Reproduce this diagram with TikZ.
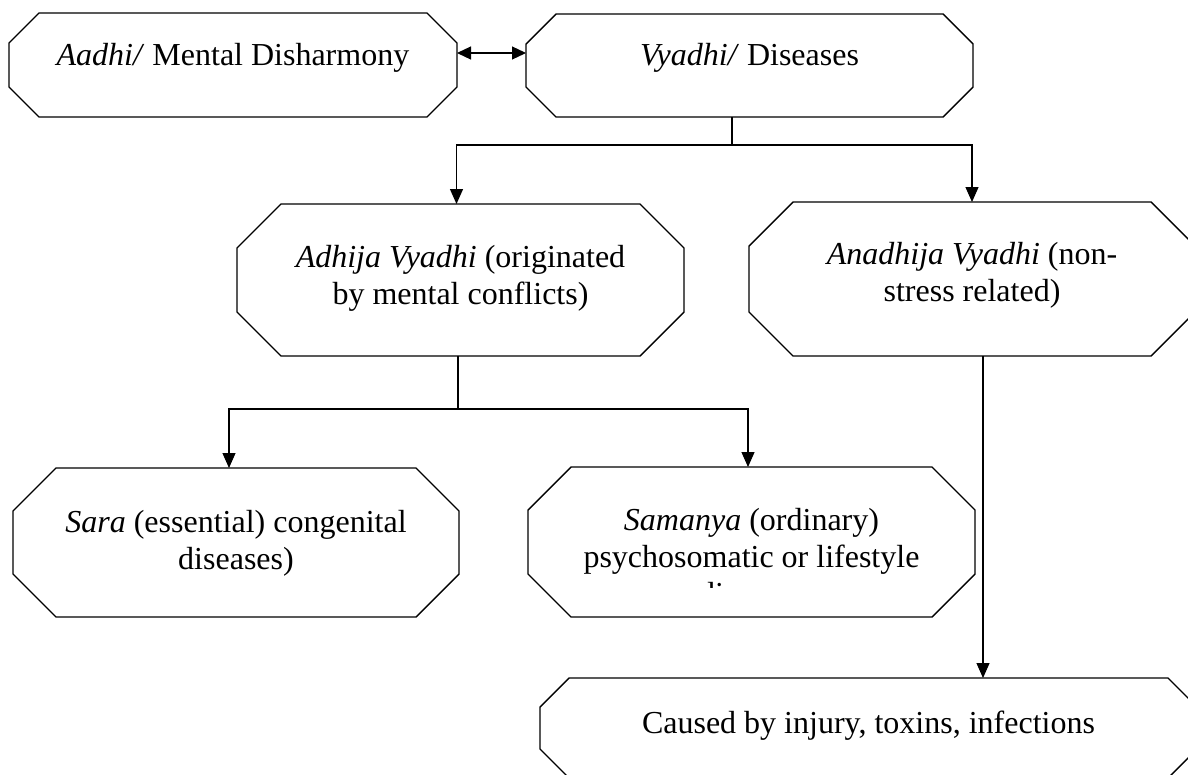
\documentclass[tikz,border=0pt]{standalone}
\usepackage{fontspec}
\setmainfont{Liberation Serif}
\usetikzlibrary{arrows.meta,calc}
\tikzset{
  frame/.style={rectangle, draw=none, inner sep=0pt, outer sep=0pt},
  txt/.style={anchor=north, inner sep=0pt, align=center, font=\fontsize{32pt}{37pt}\selectfont},
  octline/.style={line width=1.4pt, line join=miter},
  conn/.style={line width=1.2pt},
  arr/.style={conn, -{Triangle[length=15pt,width=13pt]}},
  darr/.style={conn, {Triangle[length=14pt,width=13pt]}-{Triangle[length=14pt,width=13pt]}},
}
\newcommand\octo[2]{%
  \draw[octline] ([xshift=#2pt]#1.north west) -- ([xshift=-#2pt]#1.north east)
    -- ([yshift=-#2pt]#1.north east) -- ([yshift=#2pt]#1.south east)
    -- ([xshift=-#2pt]#1.south east) -- ([xshift=#2pt]#1.south west)
    -- ([yshift=#2pt]#1.south west) -- ([yshift=-#2pt]#1.north west) -- cycle;}
\newcommand\firstline{\rule{0pt}{25pt}}
\begin{document}
\begin{tikzpicture}[x=1pt,y=-1pt]
\useasboundingbox (0,0) rectangle (1188,774);
\clip (0,0) rectangle (1188,774);
\fill[white] (0,0) rectangle (1188,774);

% box frames
\node[frame, minimum width=448pt, minimum height=104pt] (A) at (233,65) {};
\node[frame, minimum width=447pt, minimum height=103pt] (V) at (749.5,65.5) {};
\node[frame, minimum width=447pt, minimum height=152pt] (Adh) at (460.5,280) {};
\node[frame, minimum width=446pt, minimum height=154pt] (Anadh) at (972,279) {};
\node[frame, minimum width=446pt, minimum height=149pt] (Sara) at (236,542.5) {};
\node[frame, minimum width=447pt, minimum height=150pt] (Sam) at (751.5,542) {};
\node[frame, minimum width=657pt, minimum height=100pt] (Caused) at (868.5,728) {};

\octo{A}{30}
\octo{V}{30}
\octo{Adh}{44}
\octo{Anadh}{44}
\octo{Sara}{43}
\octo{Sam}{43}
\octo{Caused}{29}

% texts
\node[txt] (tA) at (233,40) {\firstline\textit{Aadhi/} Mental Disharmony};
\node[txt] (tV) at (749.5,40) {\firstline\textit{Vyadhi/} Diseases};
\node[txt] (tAdh) at (460.5,242) {\firstline\textit{Adhija Vyadhi} (originated\\by mental conflicts)};
\node[txt] (tAnadh) at (972,239) {\firstline\textit{Anadhija Vyadhi} (non-\\stress related)};
\node[txt] (tSara) at (236,507) {\firstline\textit{Sara} (essential) congenital\\diseases)};
\begin{scope}
  \clip (500,467) rectangle (1000,587);
  \node[txt] (tSam) at (751.5,505) {\firstline\textit{Samanya} (ordinary)\\psychosomatic or lifestyle\\diseases};
\end{scope}
\node[txt] (tCaused) at (868.5,708) {\firstline Caused by injury, toxins, infections};

% connectors
\draw[darr] ([yshift=12pt]A.east) -- ([yshift=12pt]A.east -| V.west);

\coordinate (j1) at (732,145);
\draw[conn] (V.south -| j1) -- (j1);
\draw[arr] (j1) -| ([xshift=-4pt]Adh.north);
\draw[arr] (j1) -| (Anadh.north);

\coordinate (j2) at (458,409);
\draw[conn] (Adh.south -| j2) -- (j2);
\draw[arr] (j2) -| ([xshift=-7pt]Sara.north);
\draw[arr] (j2) -| ([xshift=-3.5pt]Sam.north);

\draw[arr] ([xshift=11pt]Anadh.south) -- ([xshift=11pt]Anadh.south |- Caused.north);
\end{tikzpicture}
\end{document}
